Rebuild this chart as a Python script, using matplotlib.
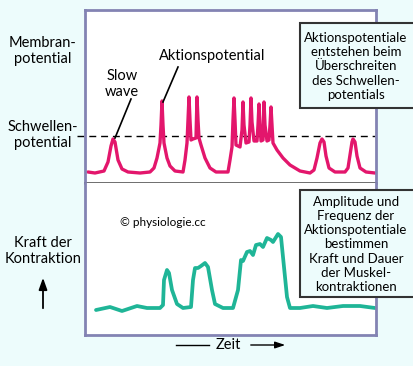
import matplotlib
matplotlib.use("Agg")
import matplotlib.pyplot as plt
from matplotlib.patches import Rectangle

# ---------- Daten ----------
# Membranpotential (Zeit, Potential in willkürlichen Einheiten)
t_mp = [3, 10, 19, 23, 26, 28, 30, 33, 37, 43, 55, 65, 69, 72, 75, 76, 77, 78, 79, 82, 85, 90, 98,
        100, 102, 103, 104, 105, 106, 108, 111, 112, 113, 114, 116, 120, 125, 131, 143,
        145, 147, 148, 149, 150, 151, 155, 157, 158, 159, 161, 164, 165, 166, 167, 169, 172, 173,
        174, 175, 176, 178, 179, 180, 182, 184, 185, 186, 187, 188, 192, 198, 205, 215, 225,
        229, 232, 235, 237, 239, 241, 244, 250, 260, 263, 265, 267, 268, 270, 272, 275, 281, 290]
v_mp = [11, 10, 12, 21, 37, 44, 41, 23, 14, 11, 10, 11, 15, 25, 40, 58, 82, 58, 40, 25, 17, 12, 11,
        23, 40, 63, 86, 63, 43, 44, 45, 86, 63, 45, 38, 25, 15, 11, 11,
        23, 36, 63, 85, 63, 38, 36, 53, 81, 58, 40, 41, 58, 85, 61, 42, 42, 58,
        79, 59, 42, 43, 81, 58, 42, 43, 58, 76, 58, 40, 33, 25, 18, 12, 10,
        13, 25, 40, 44, 41, 27, 15, 11, 11, 15, 28, 41, 44, 41, 27, 15, 11, 10]
schwelle = 47

# Kraft der Kontraktion
t_kr = [11, 25, 37, 52, 62, 75, 78, 79, 82, 84, 87, 92, 98, 106, 108, 110, 113, 116, 120, 123,
        127, 130, 138, 148, 153, 156, 158, 162, 165, 168, 171, 175, 178, 182, 186, 188, 193,
        196, 199, 202, 205, 215, 228, 242, 258, 275, 290]
f_kr = [25, 28, 24, 29, 27, 27, 30, 55, 65, 62, 45, 31, 27, 28, 55, 67, 67, 69, 72, 68,
        45, 31, 27, 27, 45, 75, 74, 83, 84, 80, 90, 91, 88, 97, 95, 93, 101,
        98, 68, 38, 27, 27, 29, 27, 29, 29, 27]

txt_oben = "Aktionspotentiale\nentstehen beim\nÜberschreiten\ndes Schwellen-\npotentials"
txt_unten = ("Amplitude und\nFrequenz der\nAktionspotentiale\nbestimmen\n"
             "Kraft und Dauer\nder Muskel-\nkontraktionen")

# ---------- Stil ----------
BG = "#edfcfc"
RAHMEN = "#8383b3"
PINK = "#e3166c"
GRUEN = "#1fb597"
plt.rcParams["font.family"] = ["Lato", "DejaVu Sans"]

W, H = 414, 366
fig = plt.figure(figsize=(W / 100, H / 100), dpi=100, facecolor=BG)

def px_axes(x0, y0, x1, y1):
    return fig.add_axes([x0 / W, 1 - y1 / H, (x1 - x0) / W, (y1 - y0) / H])

# ---------- oberes Feld ----------
ax1 = px_axes(85, 10, 376, 183)
ax1.set_facecolor("white")
ax1.set_xlim(0, 291); ax1.set_ylim(0, 173)
ax1.set_xticks([]); ax1.set_yticks([])
for s in ["left", "top", "right"]:
    ax1.spines[s].set_color(RAHMEN); ax1.spines[s].set_linewidth(2)
ax1.spines["bottom"].set_color("#555555"); ax1.spines["bottom"].set_linewidth(1.2)

ax1.plot([-8, 290], [schwelle, schwelle], color="black", lw=1, ls=(0, (5, 3.5)), clip_on=False)
ax1.plot(t_mp, v_mp, color=PINK, lw=2.4, solid_joinstyle="round", solid_capstyle="round")

ax1.plot([46, 30], [84, 45], color="black", lw=1.2)
ax1.text(37, 99, "Slow\nwave", ha="center", va="center", fontsize=10.5, linespacing=1.1)
ax1.plot([93, 78], [116, 81], color="black", lw=1.2)
ax1.text(127, 127, "Aktionspotential", ha="center", va="center", fontsize=10.5)

# ---------- unteres Feld ----------
ax2 = px_axes(85, 183, 376, 335)
ax2.set_facecolor("white")
ax2.set_xlim(0, 291); ax2.set_ylim(0, 152)
ax2.set_xticks([]); ax2.set_yticks([])
for s in ["left", "bottom", "right"]:
    ax2.spines[s].set_color(RAHMEN); ax2.spines[s].set_linewidth(2)
ax2.spines["top"].set_visible(False)
ax2.plot(t_kr, f_kr, color=GRUEN, lw=2.7, solid_joinstyle="round", solid_capstyle="round")
ax2.text(35, 113, "© physiologie.cc", ha="left", va="center", fontsize=8.5)

# ---------- Beschriftungen (Pixel-Overlay) ----------
ov = fig.add_axes([0, 0, 1, 1], zorder=5)
ov.set_xlim(0, W); ov.set_ylim(H, 0); ov.axis("off"); ov.patch.set_alpha(0)

for y0, y1, txt in [(23, 108, txt_oben), (190, 297, txt_unten)]:
    ov.add_patch(Rectangle((300, y0), 130, y1 - y0, facecolor=BG, edgecolor="#333333",
                           lw=1.5, clip_on=False))
    ov.text(356, (y0 + y1) / 2 + 1, txt, ha="center", va="center", fontsize=9.5,
            linespacing=1.22)

ov.text(43, 51, "Membran-\npotential", ha="center", va="center", fontsize=10.5, linespacing=1.25)
ov.text(43, 135, "Schwellen-\npotential", ha="center", va="center", fontsize=10.5, linespacing=1.25)
ov.text(43, 251, "Kraft der\nKontraktion", ha="center", va="center", fontsize=10.5, linespacing=1.25)
ov.annotate("", xy=(43, 275), xytext=(43, 311),
            arrowprops=dict(arrowstyle="-|>,head_length=0.7,head_width=0.25", color="black", lw=1.3))

ov.text(228, 345, "Zeit", ha="center", va="center", fontsize=10.5)
ov.plot([176, 209], [345, 345], color="black", lw=1)
ov.annotate("", xy=(288, 345), xytext=(248, 345),
            arrowprops=dict(arrowstyle="-|>,head_length=0.6,head_width=0.2", color="black", lw=1))

fig.savefig("out.png", dpi=100, facecolor=BG)
